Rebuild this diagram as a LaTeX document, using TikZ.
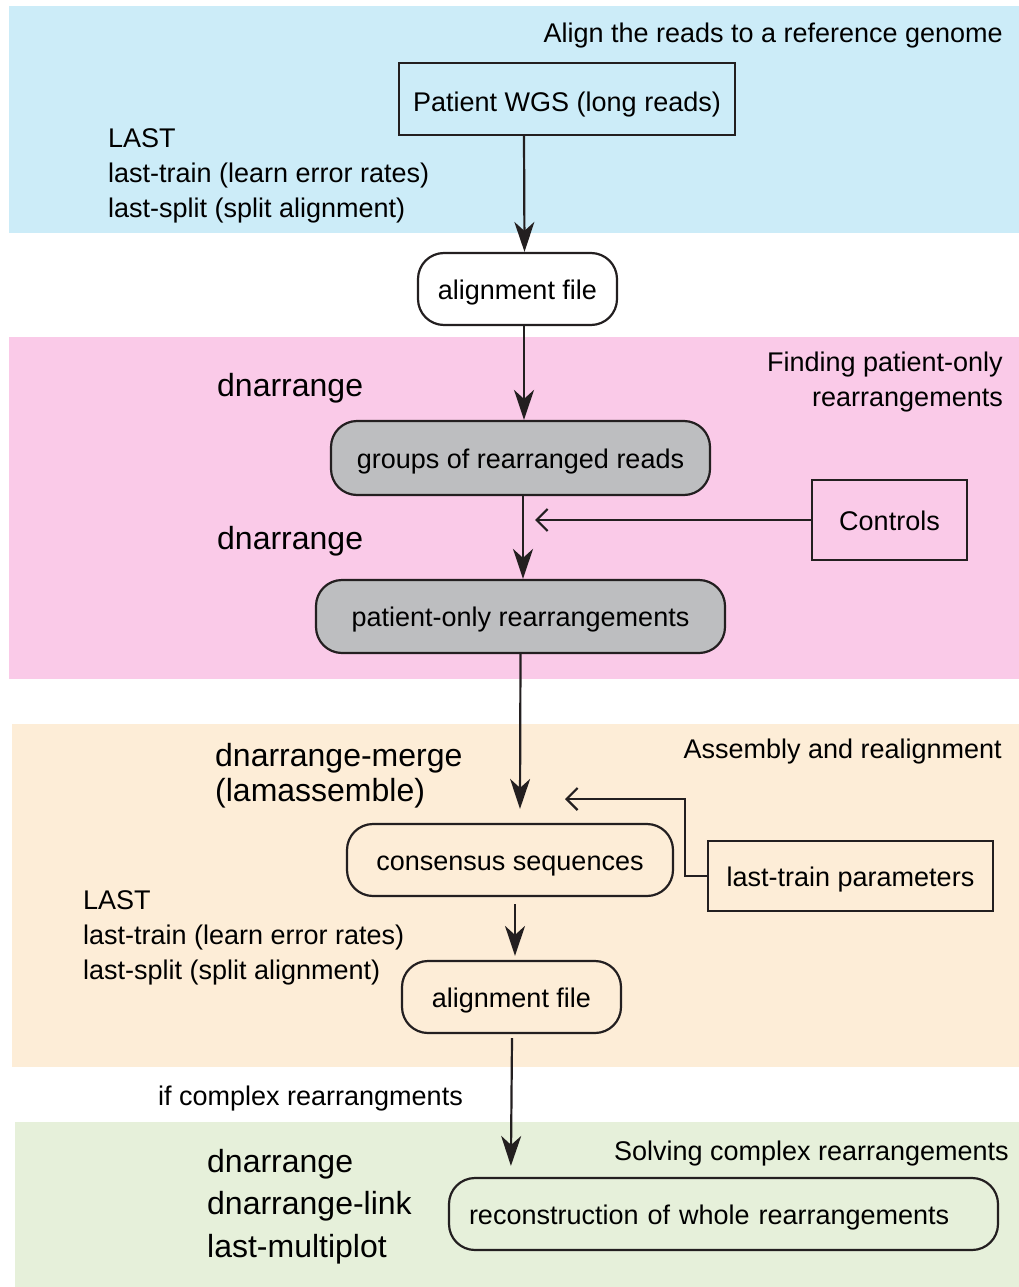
\documentclass[tikz,border=0pt]{standalone}
\usepackage{fontspec}
\setmainfont{Liberation Sans}
\usepackage{xcolor}
\usepackage{tikz}
\usetikzlibrary{arrows.meta}
\usetikzlibrary{calc,positioning}
\definecolor{bandblue}{HTML}{CCECF8}
\definecolor{bandpink}{HTML}{FACAE8}
\definecolor{bandpeach}{HTML}{FDEDD7}
\definecolor{bandgreen}{HTML}{E6F0DA}
\definecolor{nodegray}{HTML}{BDBEC0}
\definecolor{ink}{HTML}{231F20}
\tikzset{
  sqbox/.style={draw=ink, line width=2.2pt, inner sep=0pt, text centered, text height=22pt, text depth=2pt, font=\fontsize{27}{35}\selectfont},
  rndbox/.style={sqbox, rounded corners=26pt},
  grybox/.style={rndbox, fill=nodegray},
  note/.style={inner sep=0pt, align=left, font=\fontsize{27}{35}\selectfont},
  bignote/.style={inner sep=0pt, align=left, font=\fontsize{32}{35}\selectfont},
  arr/.style={draw=ink, line width=2.2pt, -{Stealth[length=30pt,width=20pt,inset=9pt]}},
  barb/.style={draw=ink, line width=2.2pt, -{Straight Barb[length=11pt,width=22pt]}}
}
\begin{document}
\begin{tikzpicture}[x=1pt,y=-1pt]
\useasboundingbox (0,0) rectangle (1019,1287);
\fill[bandblue] (9,6) rectangle (1019,233);
\fill[bandpink] (9,337) rectangle (1019,679);
\fill[bandpeach] (12,724) rectangle (1019,1067);
\fill[bandgreen] (15,1122) rectangle (1019,1287);

\node[sqbox, fill=bandblue, minimum width=336pt, minimum height=72pt, text height=25pt, text depth=0pt] (pw) at (567,99) {Patient WGS (long reads)};
\node[rndbox, fill=white, minimum width=199pt, minimum height=72pt] (af) at (517.5,289) {alignment file};
\node[grybox, minimum width=379pt, minimum height=74pt] (gr) at (520.5,458) {groups of rearranged reads};
\node[sqbox, fill=bandpink, minimum width=155pt, minimum height=80pt] (ctl) at (889.5,520) {Controls};
\node[grybox, minimum width=409pt, minimum height=73pt] (po) at (520.5,616.5) {patient-only rearrangements};
\node[rndbox, fill=bandpeach, minimum width=326pt, minimum height=72pt] (cs) at (510,860) {consensus sequences};
\node[sqbox, fill=bandpeach, minimum width=285pt, minimum height=70pt] (ltp) at (850.5,876) {last-train parameters};
\node[rndbox, fill=bandpeach, minimum width=219pt, minimum height=72pt] (af2) at (511.5,997) {alignment file};
\node[rndbox, fill=bandgreen, minimum width=549pt, minimum height=72pt, text width=509pt, align=left] (rc) at (723.5,1214) {reconstruction of whole rearrangements};
\coordinate (ctlend) at (535,520);
\coordinate (ltpend) at (565,799);

\draw[arr] ([xshift=-43pt]pw.south) -- ([xshift=7pt]af.north);
\draw[arr] ([xshift=6.5pt]af.south) -- ([xshift=3.5pt]gr.north);
\draw[arr] ([xshift=2.5pt]gr.south) -- ([xshift=2.5pt]po.north);
\draw[barb] (ctl.west) -- (ctlend);
\draw[arr] (po.south) -- ([shift={(10pt,14pt)}]cs.north);
\draw[barb] (ltp.west) -- ++(-22,0) |- (ltpend);
\draw[arr] ([shift={(5pt,-7pt)}]cs.south) -- ([shift={(3.5pt,4pt)}]af2.north);
\draw[arr] ([shift={(0.5pt,-4pt)}]af2.south) -- ([shift={(63pt,11pt)}]rc.north west);

\node[note, anchor=north east] (t1) at (1003,23) {Align the reads to a reference genome};
\node[note, anchor=north west] (n1) at (108,128) {LAST\\last-train (learn error rates)\\last-split (split alignment)};
\node[note, anchor=north east, align=right] (t2) at (1003,352) {Finding patient-only\\rearrangements};
\node[bignote, anchor=north west] (d1) at (217,373) {dnarrange};
\node[bignote, anchor=north west] (d2) at (217,526) {dnarrange};
\node[bignote, anchor=north west] (d3) at (215,743) {dnarrange-merge\\(lamassemble)};
\node[note, anchor=north east] (t3) at (1002,739) {Assembly and realignment};
\node[note, anchor=north west] (n2) at (83,890) {LAST\\last-train (learn error rates)\\last-split (split alignment)};
\node[note, anchor=north west] (t4) at (158,1086) {if complex rearrangments};
\node[note, anchor=north east] (t5) at (1009,1141) {Solving complex rearrangements};
\node[bignote, anchor=north west, font=\fontsize{32}{42.5}\selectfont] (d4) at (207,1149) {dnarrange\\dnarrange-link\\last-multiplot};
\end{tikzpicture}
\end{document}
